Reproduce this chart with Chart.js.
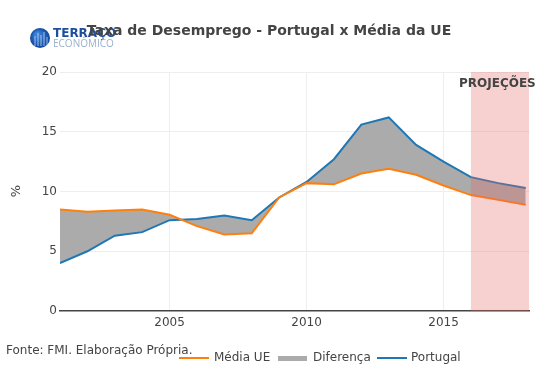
<!DOCTYPE html>
<html>
<head>
<meta charset="utf-8">
<script src="https://cdn.jsdelivr.net/npm/chart.js@4/dist/chart.umd.min.js"></script>
<style>
html,body{margin:0;padding:0;background:#fff;}
#wrap{width:539px;height:382px;position:relative;}
</style>
</head>
<body>
<div id="wrap"><canvas id="c" width="539" height="382"></canvas></div>
<script>
const years = [2001,2002,2003,2004,2005,2006,2007,2008,2009,2010,2011,2012,2013,2014,2015,2016,2017,2018];
const mediaUE = [8.5,8.3,8.4,8.5,8.05,7.1,6.4,6.5,9.5,10.7,10.6,11.5,11.9,11.4,10.5,9.7,9.3,8.9];
const portugal = [4.0,5.0,6.3,6.6,7.6,7.7,8.0,7.6,9.5,10.8,12.7,15.6,16.2,13.9,12.5,11.2,10.7,10.3];
const xTickLabels = [2005,2010,2015];
const yTickLabels = [0,5,10,15,20];
const projectionStart = 2016;
const seriesNames = ['Média UE','Diferença','Portugal'];
const titleText = 'Taxa de Desemprego - Portugal x Média da UE';
const sourceText = 'Fonte: FMI. Elaboração Própria.';
const projText = 'PROJEÇÕES';

const ORANGE = '#ff7f0e', BLUE = '#1f77b4', GREY = '#ababab';
const FONT = '"DejaVu Sans", Verdana, sans-serif';

const decor = {
  id: 'decor',
  afterDatasetsDraw(chart) {
    const {ctx, chartArea, scales} = chart;
    const x0 = scales.x.getPixelForValue(projectionStart);
    ctx.save();
    ctx.fillStyle = 'rgba(230,100,100,0.3)';
    ctx.fillRect(x0, chartArea.top, chartArea.right - x0, chartArea.bottom - chartArea.top);
    ctx.restore();
  },
  afterDraw(chart) {
    const {ctx} = chart;
    ctx.save();
    ctx.fillStyle = '#444';
    ctx.font = 'bold 12px ' + FONT;
    ctx.textBaseline = 'middle';
    ctx.textAlign = 'left';
    ctx.fillText(projText, 459, 84);
    // logo
    const g = ctx.createRadialGradient(37, 34, 2, 40, 38, 10);
    g.addColorStop(0, '#3b7fd6');
    g.addColorStop(1, '#0d47a1');
    ctx.fillStyle = g;
    ctx.beginPath(); ctx.arc(40, 38, 10, 0, Math.PI * 2); ctx.fill();
    ctx.strokeStyle = 'rgba(255,255,255,0.6)';
    ctx.lineWidth = 1;
    [[35,36],[38,33],[41,35],[44,32],[47,37]].forEach(([x,y]) => { ctx.beginPath(); ctx.moveTo(x, y); ctx.lineTo(x, 46); ctx.stroke(); });
    ctx.fillStyle = '#1d4f9c';
    ctx.font = 'bold 12px ' + FONT;
    ctx.fillText('TERRAÇO', 53, 34);
    ctx.fillStyle = '#9bb0cc';
    ctx.font = '10px "Open Sans", sans-serif';
    ctx.fillText('ECONÔMICO', 53, 44);
    // title
    ctx.fillStyle = '#444';
    ctx.font = 'bold 14px ' + FONT;
    ctx.textAlign = 'center';
    ctx.fillText(titleText, 269, 31);
    // y axis title
    ctx.save();
    ctx.translate(17, 191);
    ctx.rotate(-Math.PI / 2);
    ctx.font = '13px ' + FONT;
    ctx.fillText('%', 0, 0);
    ctx.restore();
    // source
    ctx.textAlign = 'left';
    ctx.font = '12px ' + FONT;
    ctx.fillStyle = '#444';
    ctx.fillText(sourceText, 6, 351);
    // legend
    const ly = 358;
    ctx.lineWidth = 2;
    ctx.strokeStyle = ORANGE;
    ctx.beginPath(); ctx.moveTo(179, ly); ctx.lineTo(209, ly); ctx.stroke();
    ctx.fillStyle = '#444';
    ctx.fillText(seriesNames[0], 214, ly);
    ctx.fillStyle = GREY;
    ctx.fillRect(278, ly - 2, 29, 5);
    ctx.fillStyle = '#444';
    ctx.fillText(seriesNames[1], 313, ly);
    ctx.strokeStyle = BLUE;
    ctx.beginPath(); ctx.moveTo(377, ly); ctx.lineTo(407, ly); ctx.stroke();
    ctx.fillStyle = '#444';
    ctx.fillText(seriesNames[2], 411, ly);
    ctx.restore();
  }
};

new Chart(document.getElementById('c'), {
  type: 'line',
  data: {
    datasets: [
      {
        label: seriesNames[0],
        data: years.map((y, i) => ({x: y, y: mediaUE[i]})),
        borderColor: ORANGE,
        borderWidth: 2,
        pointRadius: 0,
        fill: false,
        tension: 0
      },
      {
        label: seriesNames[2],
        data: years.map((y, i) => ({x: y, y: portugal[i]})),
        borderColor: BLUE,
        borderWidth: 2,
        pointRadius: 0,
        fill: {target: 0, above: GREY, below: GREY},
        backgroundColor: GREY,
        tension: 0
      }
    ]
  },
  options: {
    responsive: false,
    animation: false,
    layout: {padding: {left: 0, right: 10, top: 72, bottom: 0}},
    plugins: {legend: {display: false}, tooltip: {enabled: false}, title: {display: false}},
    scales: {
      x: {
        type: 'linear',
        min: 2001,
        max: 2018.12,
        afterBuildTicks(scale) { scale.ticks = xTickLabels.map(v => ({value: v})); },
        afterFit(scale) { scale.height = 71; },
        ticks: {color: '#444', font: {family: FONT, size: 12}, padding: 5, maxRotation: 0, callback: v => String(v)},
        grid: {color: '#eeeeee', lineWidth: 1, drawTicks: false},
        border: {display: true, color: '#444', width: 1.5}
      },
      y: {
        min: 0,
        max: 20,
        afterBuildTicks(scale) { scale.ticks = yTickLabels.map(v => ({value: v})); },
        afterFit(scale) { scale.width = 60; },
        ticks: {color: '#444', font: {family: FONT, size: 12}, padding: 3},
        grid: {color: ctx => ctx.tick && ctx.tick.value === 0 ? 'rgba(0,0,0,0)' : '#eeeeee', lineWidth: 1, drawTicks: false},
        border: {display: false}
      }
    }
  },
  plugins: [decor]
});
</script>
</body>
</html>
